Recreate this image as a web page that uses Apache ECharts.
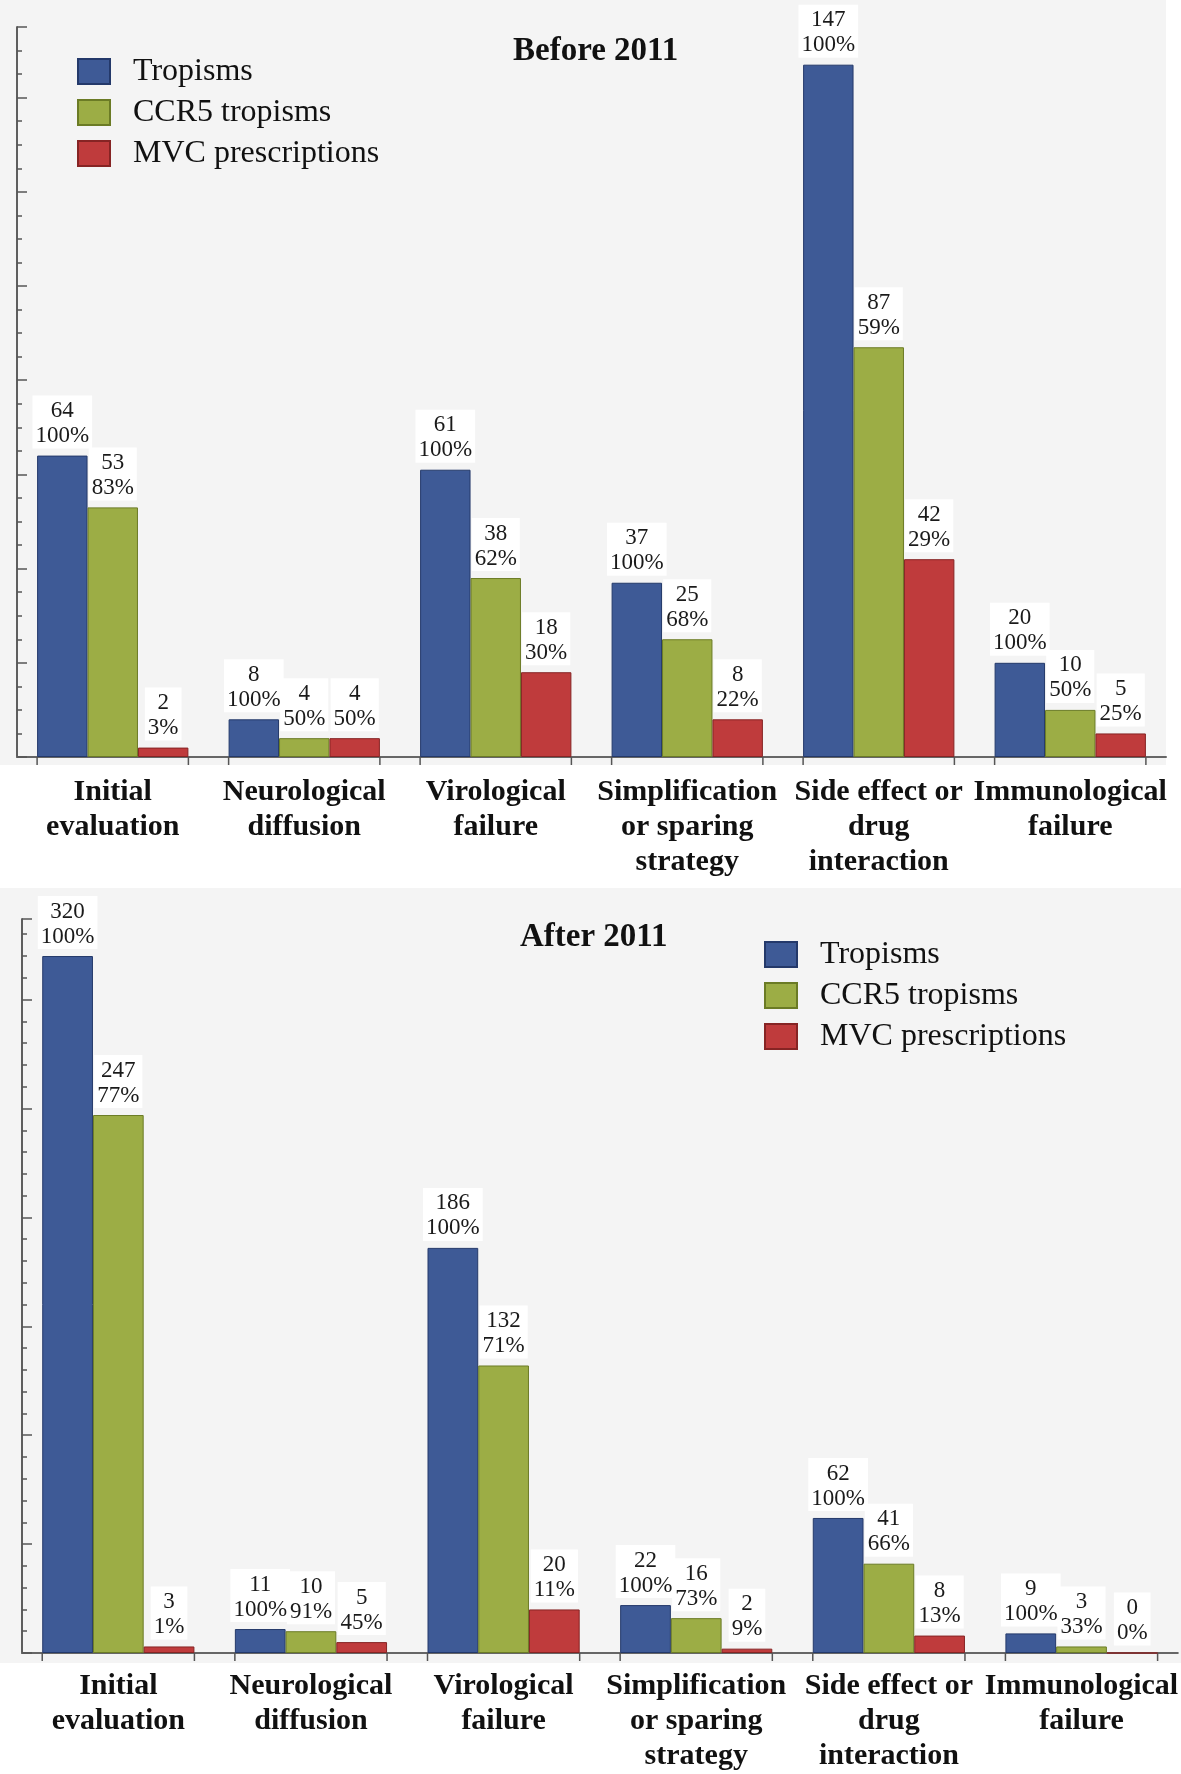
<!DOCTYPE html>
<html>
<head>
<meta charset="utf-8">
<script src="https://cdn.jsdelivr.net/npm/echarts@6/dist/echarts.min.js"></script>
<style>
  html, body { margin: 0; padding: 0; background: #fff; }
  #chart { width: 1181px; height: 1774px; }
</style>
</head>
<body>
<div id="chart"></div>
<script>
// x axis categories
const categories = ['Initial\nevaluation', 'Neurological\ndiffusion', 'Virological\nfailure',
  'Simplification\nor sparing\nstrategy', 'Side effect or\ndrug\ninteraction', 'Immunological\nfailure'];
const seriesNames = ['Tropisms', 'CCR5 tropisms', 'MVC prescriptions'];

// Before 2011
const beforeTropisms = [64, 8, 61, 37, 147, 20];
const beforeTropismsPct = [100, 100, 100, 100, 100, 100];
const beforeCcr5 = [53, 4, 38, 25, 87, 10];
const beforeCcr5Pct = [83, 50, 62, 68, 59, 50];
const beforeMvc = [2, 4, 18, 8, 42, 5];
const beforeMvcPct = [3, 50, 30, 22, 29, 25];

// After 2011
const afterTropisms = [320, 11, 186, 22, 62, 9];
const afterTropismsPct = [100, 100, 100, 100, 100, 100];
const afterCcr5 = [247, 10, 132, 16, 41, 3];
const afterCcr5Pct = [77, 91, 71, 73, 66, 33];
const afterMvc = [3, 5, 20, 2, 8, 0];
const afterMvcPct = [1, 45, 11, 9, 13, 0];

const colors = ['#3e5a96', '#9cad45', '#bf3b3c'];
const borders = ['#24396a', '#6b7b25', '#862424'];
const GAP = 0.21;
const serif = "'Liberation Serif', 'Times New Roman', serif";
const axisColor = '#555';

function barSeries(idx, values, pcts, axisIdx) {
  return {
    name: seriesNames[idx],
    type: 'bar',
    xAxisIndex: axisIdx,
    yAxisIndex: axisIdx * 2,
    data: values,
    barGap: '0%',
    barCategoryGap: (GAP * 100) + '%',
    itemStyle: { color: colors[idx], borderColor: borders[idx], borderWidth: 1 },
    label: {
      show: true,
      position: 'top',
      distance: 7,
      formatter: p => p.value + '\n' + pcts[p.dataIndex] + '%',
      fontFamily: serif,
      fontSize: 23,
      lineHeight: 25,
      color: '#1a1a1a',
      backgroundColor: '#fff',
      padding: [3, 3, 0, 3],
      align: 'center'
    }
  };
}

// small ticks under the baseline at the edges of each bar group
function edgeTicks(axisIdx) {
  return {
    type: 'custom',
    xAxisIndex: axisIdx,
    yAxisIndex: axisIdx * 2,
    silent: true,
    data: categories.map((c, i) => [i, 0]),
    renderItem(params, api) {
      const p = api.coord([api.value(0), 0]);
      const half = api.size([1, 0])[0] * (1 - GAP) / 2;
      const style = { stroke: axisColor, lineWidth: 1.5 };
      return {
        type: 'group',
        children: [
          { type: 'line', shape: { x1: p[0] - half, y1: p[1], x2: p[0] - half, y2: p[1] + 8 }, style },
          { type: 'line', shape: { x1: p[0] + half, y1: p[1], x2: p[0] + half, y2: p[1] + 8 }, style }
        ]
      };
    }
  };
}

function yAxes(gridIdx, max, minor, major) {
  const base = {
    type: 'value', gridIndex: gridIdx, min: 0, max: max, position: 'left',
    axisLabel: { show: false }, splitLine: { show: false },
    axisLine: { show: true, lineStyle: { color: axisColor, width: 1.5 } }
  };
  return [
    Object.assign({}, base, { interval: minor, axisTick: { show: true, inside: true, length: 5, lineStyle: { color: axisColor, width: 1.5 } } }),
    Object.assign({}, base, { interval: major, axisTick: { show: true, inside: true, length: 10, lineStyle: { color: axisColor, width: 1.5 } } })
  ];
}

function xAxis(gridIdx, margin) {
  return {
    type: 'category', gridIndex: gridIdx, data: categories,
    axisTick: { show: false },
    axisLine: { show: true, lineStyle: { color: '#666', width: 2 } },
    axisLabel: { interval: 0, margin: margin, fontFamily: serif, fontWeight: 'bold', fontSize: 30, lineHeight: 35, color: '#111' }
  };
}

function legend(left, top) {
  return {
    data: seriesNames, orient: 'vertical', left: left, top: top, padding: 0, itemGap: 0,
    icon: 'rect', itemWidth: 32, itemHeight: 25,
    textStyle: { fontFamily: serif, fontSize: 32, lineHeight: 36, color: '#111', padding: [5, 0, 0, 18] }
  };
}

const chart = echarts.init(document.getElementById('chart'));
chart.setOption({
  animation: false,
  backgroundColor: '#fff',
  textStyle: { fontFamily: serif },
  graphic: [
    { type: 'rect', z: -10, shape: { x: 0, y: 0, width: 1166, height: 765 }, style: { fill: '#f4f4f4' } },
    { type: 'rect', z: -10, shape: { x: 0, y: 888, width: 1181, height: 775 }, style: { fill: '#f4f4f4' } }
  ],
  title: [
    { text: 'Before 2011', left: 513, top: 35, padding: 0, textStyle: { fontFamily: serif, fontWeight: 'bold', fontSize: 33, color: '#111' } },
    { text: 'After 2011', left: 520, top: 921, padding: 0, textStyle: { fontFamily: serif, fontWeight: 'bold', fontSize: 33, color: '#111' } }
  ],
  legend: [legend(77, 51), legend(764, 934)],
  grid: [
    { left: 17, top: 27, width: 1149, height: 730 },
    { left: 22, top: 919, width: 1158, height: 736 }
  ],
  xAxis: [xAxis(0, 18), xAxis(1, 16)],
  yAxis: yAxes(0, 155, 5, 20).concat(yAxes(1, 337, 10, 50)),
  series: [
    barSeries(0, beforeTropisms, beforeTropismsPct, 0),
    barSeries(1, beforeCcr5, beforeCcr5Pct, 0),
    barSeries(2, beforeMvc, beforeMvcPct, 0),
    edgeTicks(0),
    barSeries(0, afterTropisms, afterTropismsPct, 1),
    barSeries(1, afterCcr5, afterCcr5Pct, 1),
    barSeries(2, afterMvc, afterMvcPct, 1),
    edgeTicks(1)
  ]
});
</script>
</body>
</html>
